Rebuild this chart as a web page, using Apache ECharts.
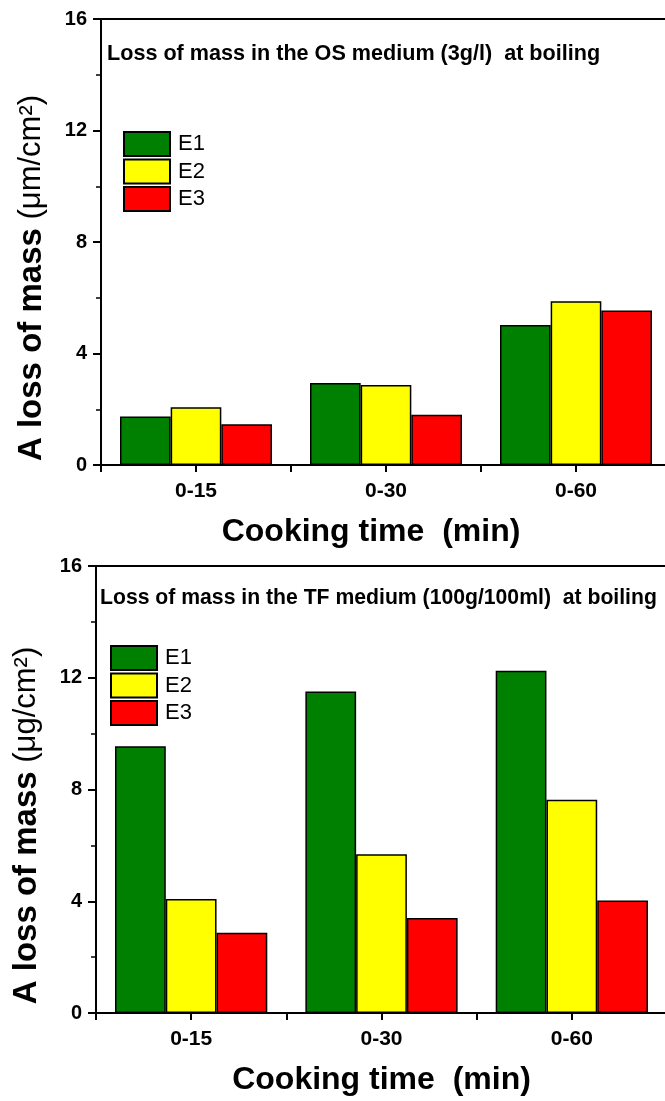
<!DOCTYPE html>
<html>
<head>
<meta charset="utf-8">
<script src="https://cdn.jsdelivr.net/npm/echarts@6/dist/echarts.min.js"></script>
<style>
  html, body { margin: 0; padding: 0; background: #fff; }
  #chart { width: 665px; height: 1101px; }
</style>
</head>
<body>
<div id="chart"></div>
<script>
const categories = ['0-15', '0-30', '0-60'];
const seriesNames = ['E1', 'E2', 'E3'];
const seriesColors = ['#008000', '#ffff00', '#ff0000'];

// top panel: OS medium (3g/l)
const osE1 = [1.74, 2.94, 5.02];
const osE2 = [2.07, 2.87, 5.87];
const osE3 = [1.46, 1.80, 5.54];

// bottom panel: TF medium (100g/100ml)
const tfE1 = [9.55, 11.51, 12.25];
const tfE2 = [4.08, 5.68, 7.63];
const tfE3 = [2.87, 3.40, 4.03];

const yTicks = { min: 0, max: 16, interval: 4 };

const FONT = "'Liberation Sans', Arial, sans-serif";

// tick under each group and on each boundary between groups
const xTickValues = [];
for (let k = 0; k <= categories.length * 2; k++) xTickValues.push(k / 2 - 0.5);

// x is a value axis over the category positions 0..n-1
function xAxis(gridIndex, namePadding) {
    return {
        type: 'value',
        gridIndex: gridIndex,
        min: -0.5,
        max: categories.length - 0.5,
        interval: 0.5,
        name: 'Cooking time  (min)',
        nameLocation: 'middle',
        nameGap: 51,
        nameTextStyle: { fontFamily: FONT, fontWeight: 'bold', fontSize: 32, color: '#000', padding: namePadding },
        axisLine: { show: true, onZero: false, lineStyle: { color: '#000', width: 2 } },
        axisTick: { show: true, customValues: xTickValues, length: 7, lineStyle: { color: '#000', width: 2 } },
        axisLabel: {
            fontFamily: FONT, fontWeight: 'bold', fontSize: 21, color: '#000', margin: 16,
            formatter: function (v) {
                return Number.isInteger(v) && categories[v] ? categories[v] : '';
            }
        },
        splitLine: { show: false }
    };
}

function yAxis(gridIndex, unit) {
    return {
        type: 'value',
        gridIndex: gridIndex,
        min: yTicks.min,
        max: yTicks.max,
        interval: yTicks.interval,
        name: '{b|A loss of mass}{n| (' + unit + '/cm²)}',
        nameLocation: 'middle',
        nameRotate: 90,
        nameGap: 53,
        nameTextStyle: {
            padding: [0, 72, 0, 0],
            rich: {
                b: { fontFamily: FONT, fontWeight: 'bold', fontSize: 33, color: '#000' },
                n: { fontFamily: FONT, fontWeight: 'normal', fontSize: 31, color: '#000' }
            }
        },
        axisLine: { show: true, onZero: false, lineStyle: { color: '#000', width: 2 } },
        axisTick: { show: true, length: 8, lineStyle: { color: '#000', width: 2 } },
        minorTick: { show: true, splitNumber: 2, length: 5, lineStyle: { color: '#000', width: 1.5 } },
        axisLabel: { fontFamily: FONT, fontWeight: 'bold', fontSize: 20, color: '#000', margin: 14 },
        splitLine: { show: false }
    };
}

function bars(values, i, idx) {
    return {
        type: 'bar',
        name: seriesNames[i],
        xAxisIndex: idx,
        yAxisIndex: idx,
        data: values.map(function (v, k) { return [k, v]; }),
        barGap: '0%',
        barCategoryGap: '20%',
        itemStyle: { color: seriesColors[i], borderColor: '#000', borderWidth: 1.5 },
        emphasis: { disabled: true }
    };
}

function legend(left, top) {
    return {
        data: seriesNames,
        orient: 'vertical',
        left: left,
        top: top,
        itemWidth: 46,
        itemHeight: 24,
        itemGap: 1.5,
        icon: 'rect',
        textStyle: { fontFamily: FONT, fontSize: 22, color: '#000', padding: [0, 0, 0, 3] }
    };
}

const chart = echarts.init(document.getElementById('chart'), null, { renderer: 'canvas' });

const option = {
    backgroundColor: '#fff',
    animation: false,
    title: [
        {
            text: 'Loss of mass in the OS medium (3g/l)  at boiling',
            left: 107,
            top: 43,
            padding: 0,
            textStyle: { fontFamily: FONT, fontWeight: 'bold', fontSize: 21.6, color: '#000' }
        },
        {
            text: 'Loss of mass in the TF medium (100g/100ml)  at boiling',
            left: 100,
            top: 588,
            padding: 0,
            textStyle: { fontFamily: FONT, fontWeight: 'bold', fontSize: 21.2, color: '#000' }
        }
    ],
    legend: [legend(118, 126), legend(105, 640)],
    grid: [
        { left: 101, top: 19, height: 446, width: 570, outerBoundsMode: 'none', show: true, borderColor: '#000', borderWidth: 2 },
        { left: 96, top: 566, height: 447, width: 571, outerBoundsMode: 'none', show: true, borderColor: '#000', borderWidth: 2 }
    ],
    xAxis: [xAxis(0, [0, 30, 0, 0]), xAxis(1, [0, 0, 0, 0])],
    yAxis: [yAxis(0, 'μm'), yAxis(1, 'μg')],
    series: [
        bars(osE1, 0, 0), bars(osE2, 1, 0), bars(osE3, 2, 0),
        bars(tfE1, 0, 1), bars(tfE2, 1, 1), bars(tfE3, 2, 1)
    ]
};

chart.setOption(option);
</script>
</body>
</html>
